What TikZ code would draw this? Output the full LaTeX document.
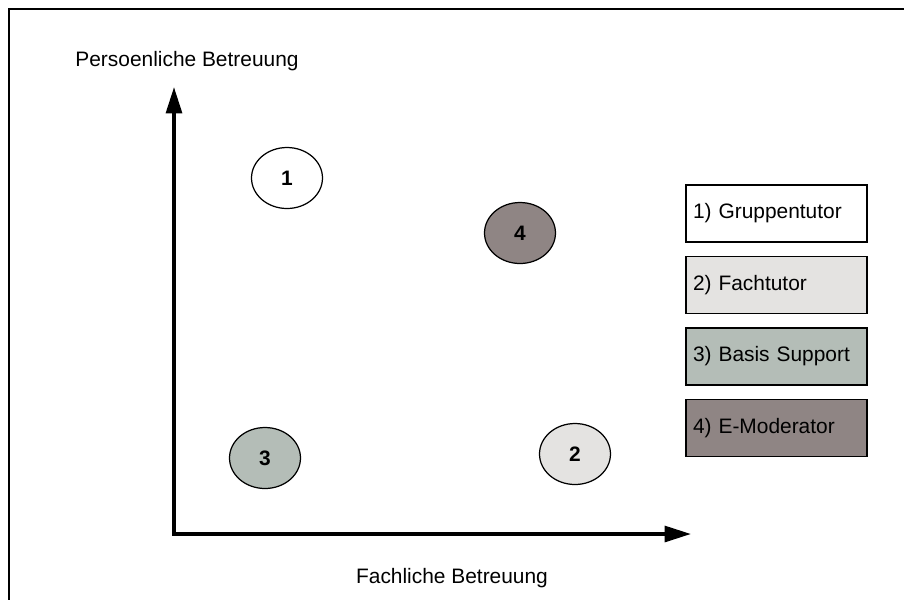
\documentclass[tikz,border=0pt]{standalone}
\usepackage{fontspec}
\setmainfont{Liberation Sans}
\usetikzlibrary{positioning,shapes.geometric,arrows.meta}

\definecolor{fach}{HTML}{E4E3E1}
\definecolor{basis}{HTML}{B4BDB7}
\definecolor{emod}{HTML}{8F8584}

\begin{document}
\begin{tikzpicture}[x=0.02cm,y=-0.02cm,
  every node/.style={font=\fontsize{11.9}{14}\selectfont},
  axis/.style={line width=2pt,{Triangle[length=15pt,width=9pt]}-{Triangle[length=15pt,width=9pt]}},
  role/.style={draw,ellipse,line width=0.7pt,minimum width=1.42cm,minimum height=1.22cm,inner sep=0pt,font=\fontsize{11.9}{14}\selectfont\bfseries},
  legend/.style={draw,line width=0.85pt,minimum height=1.14cm,text width=3.34cm,inner xsep=0.14cm,align=left}]

\useasboundingbox (0,0) rectangle (904,600);
\draw[line width=1.1pt] (904,9) -- (9,9) -- (9,600);

% axes
\coordinate (o) at (174,534);
\coordinate (ytip) at (174,87);
\coordinate (xtip) at (691,534);
\draw[axis] (ytip) -- (o) -- (xtip);

\node (ylab) at (187,61) {Persoenliche Betreuung};
\node (xlab) at (452,578) {Fachliche Betreuung};

% roles
\foreach \n/\x/\y/\col in {1/287/178/white,2/575/454/fach,3/265/458/basis,4/520/233/emod}
	\node[role,fill=\col] (r\n) at (\x,\y) {\n};

% legend
\foreach[count=\c] \txt/\col in {Gruppentutor/white,Fachtutor/fach,Basis Support/basis,E-Moderator/emod}
	\node[legend,fill=\col] (l\c) at (776.5,{142+71.5*\c}) {\c) \txt};

\end{tikzpicture}
\end{document}
